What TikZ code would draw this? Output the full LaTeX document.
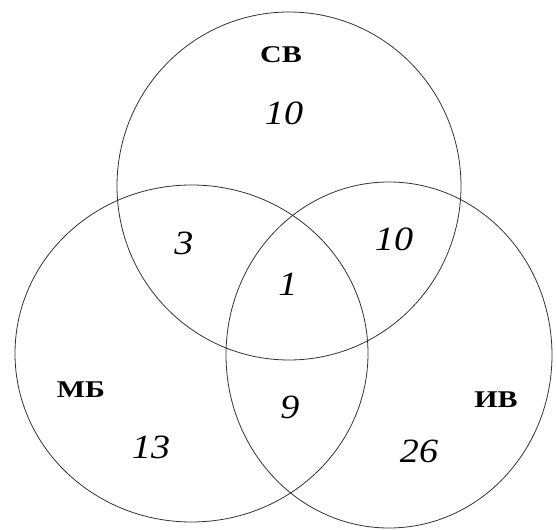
\documentclass[tikz,border=0pt]{standalone}
\usepackage{fontspec}
\setmainfont{Liberation Serif}
\usepackage{tikz}

\begin{document}
\begin{tikzpicture}[x=1pt,y=1pt,
  setline/.style={draw=black!80,line width=0.8pt},
  numlbl/.style={inner sep=0pt,xscale=1.12,font=\fontsize{34}{34}\selectfont\itshape},
  setlbl/.style={inner sep=0pt,xscale=1.25,font=\fontsize{24}{24}\selectfont\bfseries}]
  \useasboundingbox (0,0) rectangle (557,530);
  % the three sets
  \draw[setline] (289,344) ellipse [x radius=172,y radius=174];
  \draw[setline] (191.5,176.5) ellipse [x radius=176.5,y radius=168.5];
  \draw[setline] (389,175) ellipse [x radius=163,y radius=173];
  % set names
  \node[setlbl] (sv) at (281,475) {СВ};
  \node[setlbl] (mb) at (81,140) {МБ};
  \node[setlbl] (iv) at (496,130) {ИВ};
  % counts
  \node[numlbl] (nsv) at (284,417) {10};
  \node[numlbl] (nsvmb) at (184,287) {3};
  \node[numlbl] (nsviv) at (394,291) {10};
  \node[numlbl] (nall) at (288,246) {1};
  \node[numlbl] (nmb) at (151,83) {13};
  \node[numlbl] (nmbiv) at (290,123) {9};
  \node[numlbl] (niv) at (419,79) {26};
\end{tikzpicture}
\end{document}
